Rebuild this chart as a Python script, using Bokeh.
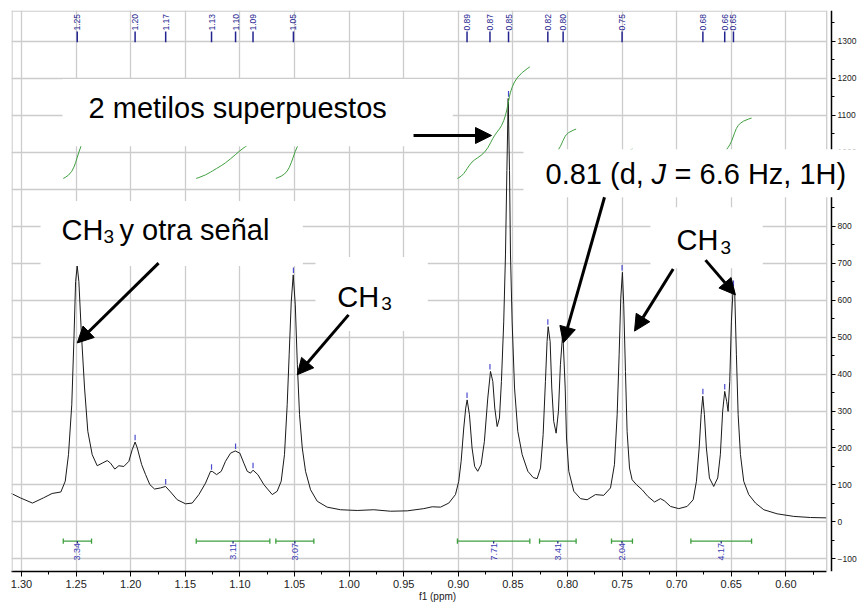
import numpy as np
from bokeh.plotting import figure
from bokeh.models import (Range1d, FixedTicker, PrintfTickFormatter, Label, Arrow,
                          NormalHead, Span, BoxAnnotation)
from bokeh.core.properties import value
from bokeh.embed import file_html
from bokeh.resources import INLINE

# 1H NMR trace: chemical shift (ppm) and intensity
shift_ppm = [
    1.3100, 1.3010, 1.2900, 1.2800, 1.2720, 1.2640, 1.2600, 1.2570, 1.2540, 1.2520,
    1.2505, 1.2490, 1.2475, 1.2453, 1.2423, 1.2393, 1.2353, 1.2307, 1.2261, 1.2215,
    1.2185, 1.2146, 1.2109, 1.2063, 1.2017, 1.1987, 1.1960, 1.1940, 1.1900, 1.1864,
    1.1825, 1.1782, 1.1727, 1.1681, 1.1635, 1.1574, 1.1498, 1.1437, 1.1376, 1.1315,
    1.1269, 1.1250, 1.1214, 1.1171, 1.1132, 1.1086, 1.1043, 1.1001, 1.0964, 1.0933,
    1.0903, 1.0880, 1.0836, 1.0781, 1.0704, 1.0659, 1.0622, 1.0592, 1.0567, 1.0549,
    1.0530, 1.0512, 1.0493, 1.0474, 1.0454, 1.0429, 1.0399, 1.0353, 1.0292, 1.0201,
    1.0079, 0.9926, 0.9774, 0.9621, 0.9468, 0.9316, 0.9239, 0.9163, 0.9087, 0.9026,
    0.8996, 0.8974, 0.8950, 0.8932, 0.8919, 0.8898, 0.8874, 0.8850, 0.8822, 0.8791,
    0.8761, 0.8730, 0.8705, 0.8684, 0.8666, 0.8644, 0.8623, 0.8605, 0.8584, 0.8568,
    0.8555, 0.8543, 0.8531, 0.8522, 0.8507, 0.8485, 0.8455, 0.8415, 0.8363, 0.8314,
    0.8278, 0.8247, 0.8223, 0.8202, 0.8187, 0.8177, 0.8159, 0.8144, 0.8126, 0.8104,
    0.8083, 0.8065, 0.8047, 0.8041, 0.8021, 0.8009, 0.7988, 0.7942, 0.7881, 0.7820,
    0.7744, 0.7668, 0.7606, 0.7570, 0.7545, 0.7527, 0.7512, 0.7497, 0.7485, 0.7469,
    0.7454, 0.7432, 0.7408, 0.7369, 0.7316, 0.7264, 0.7203, 0.7148, 0.7112, 0.7057,
    0.6981, 0.6904, 0.6849, 0.6819, 0.6794, 0.6776, 0.6761, 0.6746, 0.6728, 0.6700,
    0.6661, 0.6624, 0.6600, 0.6579, 0.6560, 0.6542, 0.6529, 0.6514, 0.6499, 0.6483,
    0.6468, 0.6453, 0.6437, 0.6416, 0.6386, 0.6340, 0.6278, 0.6202, 0.6080, 0.5928,
    0.5775, 0.5625,
]
intensity = [
    78, 65, 51, 65, 77, 81, 110, 182, 317, 497,
    650, 692, 650, 515, 362, 245, 182, 152, 159, 166,
    159, 143, 152, 150, 164, 195, 216, 200, 155, 128,
    101, 89, 92, 96, 81, 60, 49, 51, 74, 105,
    137, 136, 128, 137, 164, 186, 192, 186, 159, 137,
    132, 140, 128, 101, 74, 83, 110, 182, 317, 452,
    595, 668, 587, 425, 290, 200, 137, 87, 56, 40,
    33, 31, 33, 29, 30, 36, 41, 40, 51, 74,
    110, 164, 254, 308, 330, 290, 200, 150, 137, 155,
    218, 335, 407, 380, 308, 258, 281, 380, 541, 722,
    950, 1145, 950, 722, 541, 362, 245, 182, 137, 120,
    117, 146, 236, 380, 488, 528, 488, 362, 272, 240,
    299, 425, 497, 501, 362, 227, 137, 83, 63, 60,
    74, 72, 92, 155, 290, 452, 605, 675, 587, 407,
    245, 146, 114, 101, 87, 69, 54, 63, 57, 42,
    36, 42, 60, 110, 200, 290, 340, 290, 200, 119,
    96, 119, 182, 299, 353, 326, 299, 380, 541, 633,
    614, 452, 290, 182, 110, 74, 51, 33, 22, 15,
    12, 11,
]

# picked peaks
peak_ppm = [1.249, 1.196, 1.168, 1.126, 1.104, 1.088, 1.051, 0.892,
            0.871, 0.854, 0.818, 0.804, 0.750, 0.676, 0.656, 0.648]
peak_height = [692, 216, 96, 136, 192, 140, 668, 330,
               407, 1145, 528, 501, 675, 340, 353, 633]

# integration regions
int_start = [1.2618, 1.1400, 1.0671, 0.9008, 0.8256, 0.7597, 0.6870]
int_end = [1.2359, 1.0726, 1.0323, 0.8345, 0.7921, 0.7405, 0.6314]
int_value = [3.34, 3.11, 3.07, 7.71, 3.41, 2.04, 4.17]

x_ticks = [1.30, 1.25, 1.20, 1.15, 1.10, 1.05, 1.00, 0.95, 0.90, 0.85,
           0.80, 0.75, 0.70, 0.65, 0.60]
y_ticks = [-100, 0, 100, 200, 300, 400, 500, 600, 700, 800, 900, 1000,
           1100, 1200, 1300]

GRID = "#cccccc"
GREEN = "#3f9f3f"
NAVY = "#23238f"
BLUE = "#3a3ab4"
FONT = "Liberation Sans"

PPM_LEFT, PPM_RIGHT = 1.3092, 0.5289     # whole drawing width
PPM_EDGE = 0.5626                         # right edge of the spectrum panel
PPM_YAXIS = 0.5582                        # where the intensity axis sits
Y_LO, Y_HI = -134, 1383

p = figure(width=863, height=604, output_backend="svg", toolbar_location=None,
           x_range=Range1d(PPM_LEFT, PPM_RIGHT), y_range=Range1d(Y_LO, Y_HI),
           y_axis_location="right",
           min_border_left=11, min_border_top=10, min_border_right=0,
           min_border_bottom=32)
p.background_fill_color = "white"
p.border_fill_color = "white"
p.outline_line_color = None

# axes
minor_x = [round(t - 0.025, 3) for t in x_ticks] + [x_ticks[-1] - 0.025]
p.xaxis.ticker = FixedTicker(ticks=x_ticks, minor_ticks=minor_x)
p.xaxis.formatter = PrintfTickFormatter(format="%.2f")
p.xaxis.bounds = (PPM_EDGE, PPM_LEFT)
minor_y = [t + 50 for t in y_ticks] + [y_ticks[0] - 50]
p.yaxis.ticker = FixedTicker(ticks=y_ticks, minor_ticks=minor_y)
p.yaxis.fixed_location = PPM_YAXIS
for ax in (p.xaxis[0], p.yaxis[0]):
    ax.axis_line_color = "black"
    ax.axis_line_width = 1.5
    ax.major_tick_line_color = "black"
    ax.minor_tick_line_color = "black"
    ax.major_tick_in = 0
    ax.minor_tick_in = 0
    ax.major_label_text_font = FONT
    ax.major_label_text_color = "#222222"
p.xaxis.major_tick_out = 5
p.xaxis.minor_tick_out = 3
p.xaxis.major_label_standoff = 3
p.xaxis.major_label_text_font_size = "11px"
p.xaxis.axis_label = "f1 (ppm)"
p.xaxis.axis_label_standoff = 0
p.xaxis.axis_label_text_font = FONT
p.xaxis.axis_label_text_font_size = "10px"
p.xaxis.axis_label_text_font_style = "normal"
p.xaxis.axis_label_text_color = "#222222"
p.yaxis.major_tick_out = 4
p.yaxis.minor_tick_out = 3
p.yaxis.major_label_standoff = 2
p.yaxis.major_label_text_font_size = "8.5px"

p.xgrid.grid_line_color = GRID
p.ygrid.grid_line_color = GRID
p.xgrid.grid_line_width = 1.3
p.ygrid.grid_line_width = 1.3

# keep the grid inside the spectrum panel
p.add_layout(BoxAnnotation(left=PPM_EDGE - 0.0003, right=0.50, bottom=Y_LO - 50,
                           top=Y_HI + 50, fill_color="white", fill_alpha=1.0,
                           line_alpha=0, level="underlay"))
# panel border (left, right, top)
p.add_layout(Span(location=PPM_LEFT - 0.0005, dimension="height",
                  line_color=GRID, line_width=1.3))
p.add_layout(Span(location=PPM_EDGE, dimension="height", line_color=GRID,
                  line_width=1.3))
p.segment(x0=[PPM_LEFT], y0=[Y_HI - 1.5], x1=[PPM_EDGE], y1=[Y_HI - 1.5],
          line_color=GRID, line_width=1.3)

# spectrum
p.line(shift_ppm, intensity, line_color="#1a1a1a", line_width=1)

# peak markers at the peak tips
p.segment(x0=peak_ppm, y0=[h + 5 for h in peak_height],
          x1=peak_ppm, y1=[h + 20 for h in peak_height],
          line_color="#4b4bd0", line_width=1.2)

# peak labels along the top
p.segment(x0=peak_ppm, y0=[1297] * len(peak_ppm), x1=peak_ppm,
          y1=[1326] * len(peak_ppm), line_color=NAVY, line_width=1.5)
p.text(x=peak_ppm, y=[1329] * len(peak_ppm),
       text=[f"{v:.2f}" for v in peak_ppm], angle=np.pi / 2,
       text_align="left", text_baseline="middle",
       text_font=value(FONT), text_font_size="8.5px", text_color=NAVY)

# integral curves (cumulative area of each region)
INT_BASE = 929
INT_SCALE = 39.1
xs_all = np.array(shift_ppm)[::-1]
ys_all = np.array(intensity, dtype=float)[::-1]
for a, b, v in zip(int_start, int_end, int_value):
    inside = (xs_all > b) & (xs_all < a)
    seg_x = np.concatenate(([b], xs_all[inside], [a]))[::-1]
    seg_y = np.interp(seg_x, xs_all, ys_all)
    area = np.concatenate(([0.0], np.cumsum(
        0.5 * (seg_y[1:] + seg_y[:-1]) * (seg_x[:-1] - seg_x[1:]))))
    curve = INT_BASE + INT_SCALE * v * area / area[-1]
    p.line(seg_x, curve, line_color=GREEN, line_width=1)

# integration bars and values
mid = [(a + b) / 2 for a, b in zip(int_start, int_end)]
n = len(int_value)
p.segment(x0=int_start, y0=[-52] * n, x1=int_end, y1=[-52] * n,
          line_color=GREEN, line_width=1.3)
p.segment(x0=int_start, y0=[-45] * n, x1=int_start, y1=[-59] * n,
          line_color=GREEN, line_width=1.3)
p.segment(x0=int_end, y0=[-45] * n, x1=int_end, y1=[-59] * n,
          line_color=GREEN, line_width=1.3)
p.segment(x0=mid, y0=[-52] * n, x1=mid, y1=[-58] * n,
          line_color=NAVY, line_width=1.3)
p.text(x=mid, y=[-57] * n, text=[f"{v:.2f}" for v in int_value],
       angle=np.pi / 2, text_align="right", text_baseline="middle",
       text_font=value(FONT), text_font_size="9px", text_color=BLUE)


# white backing boxes behind the annotations
def white_box(x, y, w, h):
    return Label(x=x, y=y, text=" ", text_font_size="1px",
                 text_align="left", text_baseline="bottom", level="overlay",
                 background_fill_color="white", background_fill_alpha=1.0,
                 padding=dict(left=0, right=w, top=h, bottom=0))


for box in [white_box(1.2625, 1016, 390, 66),
            white_box(0.8403, 878, 345, 47),
            white_box(1.2826, 692, 262, 64),
            white_box(1.0308, 516, 112, 73),
            white_box(0.7240, 686, 112, 60)]:
    p.add_layout(box)


def note(x, y, text, size=29, dx=0, drop=0.0, style="normal"):
    # (x, y) is the text baseline; labels are centred vertically, so lift
    # the centre above the baseline by the font's half-height
    lift = 0.3465 * size - drop
    p.add_layout(Label(x=x, y=y, x_offset=dx, y_offset=lift, text=text,
                       text_font=FONT, text_font_size=f"{size}px",
                       text_font_style=style, text_color="black",
                       text_align="left", text_baseline="middle",
                       level="overlay"))


note(1.2386, 1091, "2 metilos superpuestos")
note(1.2634, 763, "CH")
note(1.2634, 763, "3", size=19, dx=42, drop=3.5)
note(1.2634, 763, "y otra señal", dx=58)
note(1.0109, 582, "CH")
note(1.0109, 582, "3", size=19, dx=44, drop=3.5)
note(0.7002, 735, "CH")
note(0.7002, 735, "3", size=19, dx=44, drop=3.5)
note(0.8201, 913, "0.81 (d, ")
note(0.8201, 913, "J", dx=106, style="italic")
note(0.8201, 913, "= 6.6 Hz, 1H)", dx=129)

# arrows
arrows = [
    (0.9410, 1045, 0.8696, 1045),
    (1.1745, 700, 1.2490, 484),
    (1.0005, 560, 1.0475, 398),
    (0.7661, 878, 0.8039, 484),
    (0.7032, 684, 0.7386, 516),
    (0.6736, 708, 0.6462, 614),
]
for xs, ys, xe, ye in arrows:
    p.add_layout(Arrow(end=NormalHead(size=16, fill_color="black",
                                      line_color="black", line_width=1),
                       x_start=xs, y_start=ys, x_end=xe, y_end=ye,
                       line_color="black", line_width=3, level="overlay"))

open("out.html", "w").write(file_html(p, INLINE))
